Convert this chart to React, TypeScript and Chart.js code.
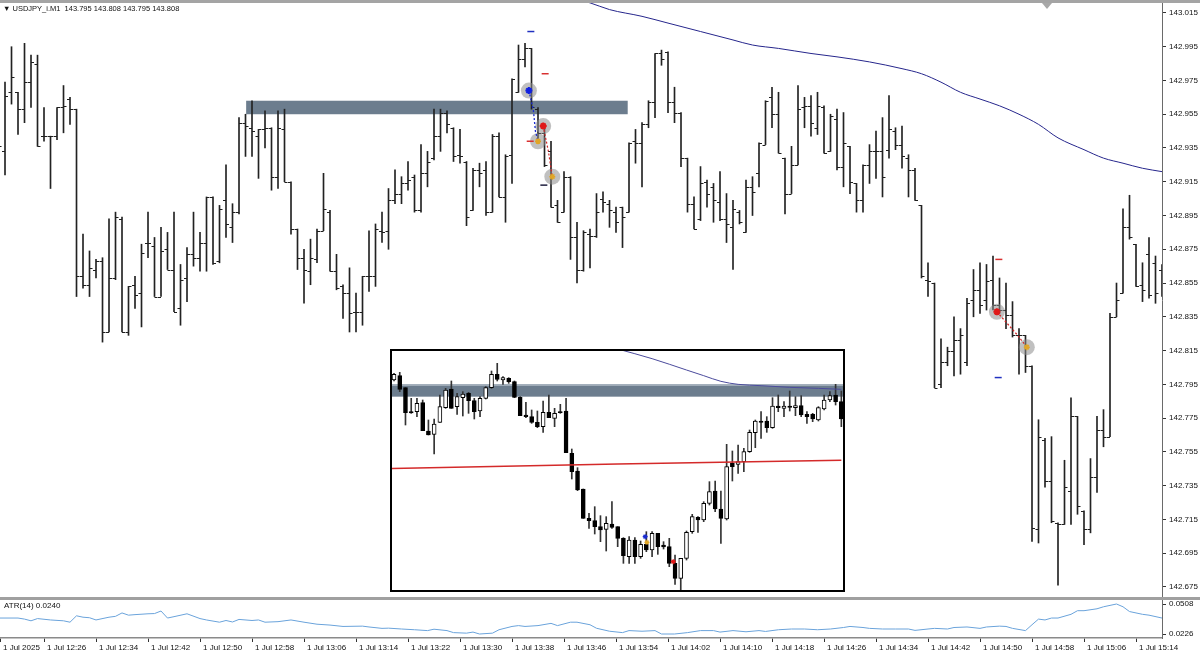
import React, { useEffect, useRef } from "react";
import { Chart, registerables } from "chart.js";

Chart.register(...registerables);

const FONT = "'Liberation Sans', Arial, sans-serif";

const TITLE_TEXT = "USDJPY_i.M1  143.795 143.808 143.795 143.808";
const ATR_TEXT = "ATR(14) 0.0240";

// ---- main M1 bars (index = minute bar) ----
const OPEN = [142.952,142.933,142.968,142.968,142.958,142.974,142.985,142.942,142.942,142.942,
 142.959,142.964,142.958,142.859,142.854,142.863,142.868,142.826,142.858,142.893,
 142.826,142.854,142.849,142.879,142.877,142.847,142.875,142.863,142.840,142.858,
 142.872,142.870,142.879,142.906,142.868,142.904,142.888,142.897,142.950,142.947,
 142.942,142.946,142.947,142.918,142.946,142.915,142.887,142.870,142.862,142.869,
 142.886,142.897,142.862,142.853,142.849,142.838,142.838,142.859,142.859,142.886,
 142.886,142.904,142.908,142.914,142.918,142.898,142.920,142.929,142.942,142.956,
 142.947,142.931,142.927,142.898,142.922,142.922,142.897,142.942,142.906,142.931,
 142.968,142.988,142.994,142.958,142.944,142.933,142.901,142.897,142.918,142.882,
 142.863,142.884,142.883,142.905,142.902,142.897,142.900,142.897,142.939,142.938,
 142.949,142.962,142.991,142.992,142.962,142.956,142.929,142.902,142.893,142.915,
 142.912,142.903,142.893,142.888,142.897,142.885,142.912,142.920,142.937,142.965,
 142.955,142.929,142.908,142.925,142.959,142.960,142.947,142.959,142.933,142.952,
 142.924,142.936,142.914,142.904,142.925,142.933,142.933,142.934,142.945,142.937,
 142.929,142.922,142.901,142.857,142.855,142.795,142.808,142.815,142.821,142.808,
 142.845,142.851,142.845,142.857,142.842,142.839,142.836,142.824,142.824,142.806,
 142.709,142.762,142.738,142.713,142.712,142.732,142.776,142.720,142.709,142.740,
 142.768,142.764,142.835,142.849,142.888,142.878,142.854,142.872,142.867,142.863];

const HIGH = [142.960,142.974,142.995,142.968,142.997,142.990,142.990,142.959,142.942,142.959,
 142.972,142.965,142.958,142.884,142.874,142.869,142.870,142.893,142.897,142.894,
 142.853,142.859,142.878,142.897,142.882,142.888,142.885,142.897,142.866,142.876,
 142.897,142.885,142.906,142.906,142.901,142.925,142.902,142.953,142.955,142.963,
 142.946,142.957,142.947,142.957,142.958,142.915,142.887,142.875,142.881,142.887,
 142.920,142.898,142.872,142.854,142.864,142.849,142.859,142.886,142.890,142.897,
 142.911,142.922,142.918,142.927,142.919,142.937,142.933,142.958,142.958,142.957,
 142.947,142.946,142.927,142.923,142.926,142.927,142.943,142.944,142.931,142.976,
 142.996,142.997,142.994,142.959,142.947,142.939,142.904,142.921,142.918,142.891,
 142.886,142.887,142.908,142.909,142.904,142.900,142.900,142.938,142.946,142.950,
 142.963,142.991,142.993,142.992,142.971,142.956,142.929,142.906,142.924,142.916,
 142.914,142.921,142.908,142.904,142.898,142.916,142.918,142.938,142.963,142.971,
 142.968,142.929,142.936,142.972,142.965,142.966,142.968,142.960,142.955,142.958,
 142.956,142.936,142.914,142.925,142.937,142.945,142.953,142.966,142.947,142.948,
 142.931,142.923,142.901,142.867,142.855,142.822,142.817,142.835,142.828,142.846,
 142.863,142.867,142.866,142.871,142.858,142.855,142.844,142.828,142.824,142.806,
 142.774,142.763,142.764,142.713,142.750,142.787,142.776,142.720,142.751,142.776,
 142.780,142.837,142.855,142.899,142.907,142.878,142.867,142.882,142.871,142.866];

const LOW = [142.934,142.919,142.961,142.943,142.950,142.959,142.936,142.939,142.911,142.940,
 142.944,142.949,142.847,142.852,142.847,142.858,142.820,142.826,142.857,142.826,
 142.824,142.840,142.829,142.870,142.847,142.847,142.863,142.838,142.830,142.844,
 142.865,142.862,142.862,142.866,142.867,142.882,142.879,142.896,142.930,142.930,
 142.917,142.935,142.910,142.911,142.915,142.884,142.863,142.843,142.854,142.867,
 142.886,142.862,142.851,142.834,142.826,142.826,142.830,142.850,142.853,142.879,
 142.875,142.902,142.902,142.910,142.897,142.897,142.912,142.928,142.933,142.944,
 142.927,142.926,142.889,142.898,142.912,142.895,142.897,142.906,142.891,142.914,
 142.968,142.983,142.958,142.939,142.924,142.900,142.891,142.897,142.869,142.855,
 142.862,142.864,142.882,142.897,142.888,142.885,142.876,142.897,142.926,142.912,
 142.947,142.953,142.984,142.956,142.950,142.924,142.897,142.887,142.892,142.900,
 142.891,142.892,142.879,142.863,142.890,142.885,142.895,142.912,142.937,142.947,
 142.932,142.896,142.908,142.925,142.947,142.942,142.943,142.932,142.933,142.922,
 142.912,142.908,142.897,142.897,142.914,142.917,142.906,142.929,142.934,142.923,
 142.906,142.904,142.858,142.847,142.793,142.793,142.806,142.800,142.801,142.806,
 142.835,142.837,142.839,142.839,142.837,142.828,142.823,142.801,142.802,142.702,
 142.701,142.734,142.713,142.676,142.712,142.712,142.718,142.700,142.707,142.731,
 142.758,142.764,142.835,142.849,142.881,142.853,142.844,142.846,142.843,142.847];

const CLOSE = [142.936,142.966,142.977,142.958,142.974,142.986,142.936,142.942,142.942,142.959,
 142.960,142.958,142.859,142.854,142.864,142.868,142.826,142.858,142.894,142.826,
 142.853,142.848,142.873,142.879,142.847,142.874,142.863,142.838,142.857,142.872,
 142.870,142.879,142.906,142.867,142.899,142.890,142.897,142.950,142.948,142.945,
 142.946,142.947,142.918,142.947,142.915,142.887,142.870,142.863,142.870,142.886,
 142.899,142.862,142.852,142.849,142.837,142.838,142.859,142.859,142.887,142.885,
 142.904,142.908,142.914,142.916,142.898,142.920,142.927,142.942,142.956,142.949,
 142.930,142.930,142.894,142.922,142.920,142.897,142.942,142.906,142.930,142.976,
 142.988,142.994,142.959,142.944,142.925,142.900,142.891,142.918,142.882,142.863,
 142.885,142.883,142.897,142.903,142.898,142.891,142.894,142.938,142.938,142.949,
 142.962,142.991,142.988,142.962,142.956,142.929,142.902,142.887,142.914,142.908,
 142.904,142.893,142.890,142.899,142.891,142.912,142.909,142.938,142.963,142.955,
 142.932,142.908,142.925,142.958,142.960,142.950,142.960,142.932,142.954,142.924,
 142.938,142.915,142.904,142.925,142.933,142.933,142.918,142.946,142.937,142.930,
 142.922,142.904,142.859,142.856,142.793,142.808,142.815,142.821,142.824,142.843,
 142.851,142.842,142.856,142.842,142.839,142.836,142.824,142.824,142.806,142.710,
 142.764,142.738,142.714,142.712,142.734,142.776,142.723,142.709,142.740,142.768,
 142.764,142.835,142.845,142.888,142.882,142.853,142.851,142.848,142.849,142.857];

const PRICE_TICKS = [142.675,142.695,142.715,142.735,142.755,142.775,142.795,142.815,142.835,
 142.855,142.875,142.895,142.915,142.935,142.955,142.975,142.995,143.015];
const PRICE_MIN = 142.669;
const PRICE_MAX = 143.0209;
const BAR_MIN = 0.23;
const BAR_MAX = 179.0;

// moving average (navy)
const MA_BARS = [88,91,94,99,103,108,113,116,120,125,129,134,139,142,145,148,151,154,157,160,163,167,170,173,176,179];
const MA_VALUES = [143.024,143.021,143.017,143.013,143.009,143.004,142.999,142.996,142.994,142.991,142.989,142.986,
 142.982,142.979,142.974,142.968,142.964,142.960,142.955,142.949,142.941,142.934,142.929,142.926,142.923,142.921];

// supply zone
const ZONE_FROM = 38.1;
const ZONE_TO = 96.8;
const ZONE_TOP = 142.963;
const ZONE_BOTTOM = 142.955;

// trade signal markers
const HALO_BARS = [81.6, 83.8, 83.0, 85.2, 153.6, 158.2];
const HALO_PRICES = [142.969, 142.948, 142.939, 142.918, 142.838, 142.817];
const BLUE_STAR_BARS = [81.6];
const BLUE_STAR_PRICES = [142.969];
const RED_STAR_BARS = [83.8, 153.6];
const RED_STAR_PRICES = [142.948, 142.838];
const GOLD_STAR_BARS = [83.0, 85.2, 158.2];
const GOLD_STAR_PRICES = [142.939, 142.918, 142.817];
const BLUE_PATH_BARS = [81.6, 82.3, 82.6, 83.0];
const BLUE_PATH_PRICES = [142.969, 142.957, 142.945, 142.939];
const RED_PATH_A_BARS = [83.8, 84.6, 85.2];
const RED_PATH_A_PRICES = [142.948, 142.933, 142.918];
const RED_PATH_B_BARS = [153.6, 156.8, 158.2];
const RED_PATH_B_PRICES = [142.838, 142.824, 142.817];
const BLUE_DASH_BARS = [81.9, 153.8];
const BLUE_DASH_PRICES = [143.004, 142.799];
const RED_DASH_BARS = [84.1, 81.8, 153.9];
const RED_DASH_PRICES = [142.979, 142.939, 142.869];
const DARK_DASH_BARS = [83.9];
const DARK_DASH_PRICES = [142.913];

// time axis
const TIME_BARS = [0.23,7,15,23,31,39,47,55,63,71,79,87,95,103,111,119,127,135,143,151,159,167,175];
const TIME_LABELS = ["1 Jul 2025","1 Jul 12:26","1 Jul 12:34","1 Jul 12:42","1 Jul 12:50","1 Jul 12:58",
 "1 Jul 13:06","1 Jul 13:14","1 Jul 13:22","1 Jul 13:30","1 Jul 13:38","1 Jul 13:46","1 Jul 13:54",
 "1 Jul 14:02","1 Jul 14:10","1 Jul 14:18","1 Jul 14:26","1 Jul 14:34","1 Jul 14:42","1 Jul 14:50",
 "1 Jul 14:58","1 Jul 15:06","1 Jul 15:14"];

// ATR(14)
const ATR_BARS = [0,3,4,5,6,8,10,11,12,13,14,15,17,18,19,20,21,23,24,25,26,27,29,31,32,34,35,36,37,39,40,41,43,45,47,49,
 51,53,56,57,59,60,62,64,66,67,69,70,72,73,74,76,77,79,80,81,83,85,86,88,89,91,92,94,96,97,99,101,102,104,106,108,110,
 111,113,115,117,118,120,122,124,126,128,130,131,133,134,136,138,140,141,143,144,146,147,149,151,152,154,155,156,158,
 159,160,161,162,163,165,166,167,169,170,172,173,174,175,176,177,179];
const ATR_VALUES = [0.0376,0.0376,0.0366,0.0350,0.0371,0.0358,0.0350,0.0337,0.0397,0.0384,0.0379,0.0358,0.0384,0.0392,
 0.0424,0.0403,0.0408,0.0416,0.0418,0.0442,0.0376,0.0389,0.0416,0.0371,0.0358,0.0337,0.0353,0.0339,0.0363,0.0353,0.0358,
 0.0337,0.0342,0.0358,0.0337,0.0318,0.0310,0.0297,0.0300,0.0292,0.0279,0.0281,0.0273,0.0266,0.0258,0.0271,0.0258,0.0239,
 0.0234,0.0244,0.0226,0.0234,0.0266,0.0297,0.0305,0.0297,0.0305,0.0326,0.0305,0.0337,0.0337,0.0313,0.0280,0.0252,0.0239,
 0.0258,0.0252,0.0258,0.0226,0.0226,0.0239,0.0258,0.0258,0.0244,0.0258,0.0247,0.0258,0.0250,0.0266,0.0273,0.0273,0.0266,
 0.0273,0.0287,0.0297,0.0287,0.0279,0.0273,0.0273,0.0273,0.0260,0.0273,0.0279,0.0273,0.0287,0.0292,0.0279,0.0292,0.0300,
 0.0297,0.0279,0.0258,0.0313,0.0366,0.0358,0.0376,0.0376,0.0411,0.0445,0.0445,0.0463,0.0482,0.0508,0.0482,0.0437,0.0424,
 0.0411,0.0403,0.0376];
const ATR_TICKS = [0.0226, 0.0508];
const ATR_MIN = 0.01884;
const ATR_MAX = 0.05456;

// ---- inset (higher time-frame candles) ----
const INSET_OPEN = [143.0895,143.0908,143.0872,143.0800,143.0800,143.0827,143.0742,143.0732,143.0768,143.0812,
 143.0868,143.0815,143.0842,143.0855,143.0833,143.0802,143.0840,143.0872,143.0912,143.0895,
 143.0900,143.0890,143.0843,143.0790,143.0785,143.0768,143.0755,143.0798,143.0780,143.0800,
 143.0802,143.0675,143.0622,143.0568,143.0480,143.0473,143.0455,143.0447,143.0463,143.0455,
 143.0420,143.0365,143.0415,143.0365,143.0402,143.0385,143.0435,143.0400,143.0395,143.0345,
 143.0300,143.0360,143.0440,143.0483,143.0475,143.0525,143.0562,143.0508,143.0478,143.0645,
 143.0642,143.0650,143.0680,143.0737,143.0772,143.0772,143.0752,143.0817,143.0810,143.0817,
 143.0812,143.0818,143.0792,143.0792,143.0775,143.0808,143.0835,143.0850,143.0830];
const INSET_HIGH = [143.0915,143.0918,143.0872,143.0840,143.0840,143.0835,143.0775,143.0778,143.0850,143.0870,
 143.0892,143.0855,143.0860,143.0858,143.0840,143.0845,143.0875,143.0922,143.0945,143.0905,
 143.0902,143.0892,143.0845,143.0828,143.0805,143.0802,143.0832,143.0850,143.0810,143.0822,
 143.0840,143.0688,143.0632,143.0568,143.0495,143.0515,143.0488,143.0485,143.0530,143.0455,
 143.0422,143.0425,143.0422,143.0412,143.0440,143.0440,143.0435,143.0410,143.0420,143.0370,
 143.0360,143.0442,143.0492,143.0485,143.0530,143.0590,143.0592,143.0562,143.0702,143.0682,
 143.0700,143.0690,143.0745,143.0775,143.0800,143.0785,143.0842,143.0850,143.0830,143.0862,
 143.0845,143.0848,143.0800,143.0795,143.0815,143.0850,143.0860,143.0882,143.0862];
const INSET_LOW = [143.0892,143.0860,143.0760,143.0795,143.0785,143.0743,143.0730,143.0673,143.0768,143.0810,
 143.0810,143.0792,143.0787,143.0795,143.0778,143.0785,143.0838,143.0870,143.0892,143.0882,
 143.0885,143.0842,143.0788,143.0782,143.0765,143.0752,143.0738,143.0782,143.0755,143.0795,
 143.0677,143.0598,143.0563,143.0480,143.0450,143.0433,143.0410,143.0382,143.0450,143.0395,
 143.0345,143.0345,143.0345,143.0360,143.0380,143.0365,143.0372,143.0388,143.0335,143.0282,
 143.0265,143.0355,143.0435,143.0438,143.0470,143.0520,143.0500,143.0405,143.0475,143.0592,
 143.0615,143.0620,143.0678,143.0692,143.0720,143.0738,143.0750,143.0800,143.0785,143.0802,
 143.0788,143.0785,143.0765,143.0770,143.0772,143.0805,143.0830,143.0820,143.0755];
const INSET_CLOSE = [143.0912,143.0867,143.0797,143.0796,143.0825,143.0743,143.0730,143.0763,143.0815,143.0865,
 143.0810,143.0845,143.0853,143.0833,143.0800,143.0840,143.0872,143.0912,143.0897,143.0902,
 143.0890,143.0843,143.0788,143.0785,143.0768,143.0755,143.0798,143.0782,143.0795,143.0797,
 143.0677,143.0620,143.0565,143.0480,143.0473,143.0455,143.0445,143.0465,143.0453,143.0420,
 143.0368,143.0415,143.0365,143.0402,143.0385,143.0435,143.0395,143.0394,143.0345,143.0300,
 143.0360,143.0438,143.0485,143.0475,143.0525,143.0560,143.0508,143.0480,143.0635,143.0635,
 143.0650,143.0680,143.0738,143.0772,143.0768,143.0752,143.0817,143.0812,143.0817,143.0813,
 143.0818,143.0790,143.0785,143.0778,143.0812,143.0835,143.0848,143.0830,143.0778];
const INSET_X_MIN = 0.65;
const INSET_X_MAX = 79.29;
const INSET_Y_MIN = 143.0265;
const INSET_Y_MAX = 143.0982;
const INSET_ZONE_TOP = 143.0882;
const INSET_ZONE_BOTTOM = 143.0845;
const INSET_MA_BARS = [40,46,52,55,58,61,65,70,75,79];
const INSET_MA_VALUES = [143.0988,143.0959,143.0925,143.0908,143.0891,143.0882,143.0878,143.0873,143.0870,143.0867];
const INSET_RED_BARS = [0,40,58,79];
const INSET_RED_VALUES = [143.0629,143.0643,143.0648,143.0654];
const INSET_SIGNAL_BARS = [44.8, 45.1, 49.7];
const INSET_SIGNAL_PRICES = [143.0425, 143.0408, 143.0350];

const pts = (xs: number[], ys: number[]) => xs.map((x, i) => ({ x, y: ys[i] }));

const zonePlugin = {
  id: "zone",
  beforeDatasetsDraw(chart: any) {
    const { ctx, scales } = chart;
    const x1 = scales.x.getPixelForValue(ZONE_FROM);
    const x2 = scales.x.getPixelForValue(ZONE_TO);
    const y1 = scales.y.getPixelForValue(ZONE_TOP);
    const y2 = scales.y.getPixelForValue(ZONE_BOTTOM);
    ctx.save();
    ctx.fillStyle = "#6c7d8e";
    ctx.fillRect(x1, y1, x2 - x1, y2 - y1);
    ctx.restore();
  },
};

const ohlcTickPlugin = {
  id: "ohlcTicks",
  afterDatasetDraw(chart: any, args: any) {
    if (args.meta.type !== "bar") return;
    const { ctx, scales, chartArea } = chart;
    ctx.save();
    ctx.beginPath();
    ctx.rect(chartArea.left, chartArea.top, chartArea.right - chartArea.left, chartArea.bottom - chartArea.top);
    ctx.clip();
    ctx.strokeStyle = "#1e1e1e";
    ctx.lineWidth = 1;
    ctx.beginPath();
    for (let i = 0; i < OPEN.length; i++) {
      const px = scales.x.getPixelForValue(i);
      const yo = Math.round(scales.y.getPixelForValue(OPEN[i])) + 0.5;
      const yc = Math.round(scales.y.getPixelForValue(CLOSE[i])) + 0.5;
      ctx.moveTo(px - 3, yo);
      ctx.lineTo(px, yo);
      ctx.moveTo(px, yc);
      ctx.lineTo(px + 3, yc);
    }
    ctx.stroke();
    ctx.restore();
  },
};

const insetZonePlugin = {
  id: "insetZone",
  beforeDatasetsDraw(chart: any) {
    const { ctx, scales, chartArea } = chart;
    const y1 = scales.y.getPixelForValue(INSET_ZONE_TOP);
    const y2 = scales.y.getPixelForValue(INSET_ZONE_BOTTOM);
    ctx.save();
    ctx.fillStyle = "#6c7d8e";
    ctx.fillRect(chartArea.left, y1, chartArea.right - chartArea.left, y2 - y1);
    ctx.fillStyle = "#a9b5c0";
    ctx.fillRect(chartArea.left, y1, chartArea.right - chartArea.left, 1.5);
    ctx.restore();
  },
};

const axisFont = { family: FONT, size: 8 };

function mainConfig(): any {
  return {
    type: "bar",
    data: {
      datasets: [
        {
          type: "bar",
          data: HIGH.map((h, i) => ({ x: i, y: [LOW[i], h] })),
          backgroundColor: "#222222",
          barThickness: 1,
          grouped: false,
          order: 10,
        },
        {
          type: "line",
          data: pts(MA_BARS, MA_VALUES),
          borderColor: "#26268c",
          borderWidth: 1,
          pointRadius: 0,
          cubicInterpolationMode: "monotone",
          order: 9,
        },
        {
          type: "line",
          showLine: false,
          data: pts(HALO_BARS, HALO_PRICES),
          pointRadius: 8,
          pointBackgroundColor: "rgba(140,140,140,0.55)",
          pointBorderWidth: 0,
          order: 8,
        },
        {
          type: "line",
          data: pts(BLUE_PATH_BARS, BLUE_PATH_PRICES),
          borderColor: "#1a2cd0",
          borderWidth: 1.3,
          borderDash: [2, 2],
          pointRadius: 0,
          order: 7,
        },
        {
          type: "line",
          data: pts(RED_PATH_A_BARS, RED_PATH_A_PRICES),
          borderColor: "#d02828",
          borderWidth: 1.2,
          borderDash: [2, 2],
          pointRadius: 0,
          order: 7,
        },
        {
          type: "line",
          data: pts(RED_PATH_B_BARS, RED_PATH_B_PRICES),
          borderColor: "#d02828",
          borderWidth: 1.2,
          borderDash: [2, 2],
          pointRadius: 0,
          order: 7,
        },
        {
          type: "line",
          showLine: false,
          data: pts(BLUE_STAR_BARS, BLUE_STAR_PRICES),
          pointStyle: "star",
          pointRadius: 3.5,
          pointBorderColor: "#1020e0",
          pointBorderWidth: 2,
          order: 6,
        },
        {
          type: "line",
          showLine: false,
          data: pts(RED_STAR_BARS, RED_STAR_PRICES),
          pointStyle: "star",
          pointRadius: 3.5,
          pointBorderColor: "#e01818",
          pointBorderWidth: 2,
          order: 6,
        },
        {
          type: "line",
          showLine: false,
          data: pts(GOLD_STAR_BARS, GOLD_STAR_PRICES),
          pointStyle: "star",
          pointRadius: 3,
          pointBorderColor: "#e0a628",
          pointBorderWidth: 1.5,
          order: 6,
        },
        {
          type: "line",
          showLine: false,
          data: pts(BLUE_DASH_BARS, BLUE_DASH_PRICES),
          pointStyle: "line",
          pointRadius: 3.5,
          pointBorderColor: "#2030c0",
          pointBorderWidth: 1.5,
          order: 5,
        },
        {
          type: "line",
          showLine: false,
          data: pts(RED_DASH_BARS, RED_DASH_PRICES),
          pointStyle: "line",
          pointRadius: 3.5,
          pointBorderColor: "#d83030",
          pointBorderWidth: 1.5,
          order: 5,
        },
        {
          type: "line",
          showLine: false,
          data: pts(DARK_DASH_BARS, DARK_DASH_PRICES),
          pointStyle: "line",
          pointRadius: 3.5,
          pointBorderColor: "#202040",
          pointBorderWidth: 1.5,
          order: 5,
        },
      ],
    },
    options: {
      animation: false,
      responsive: false,
      maintainAspectRatio: false,
      events: [],
      layout: { padding: 0, autoPadding: false },
      plugins: { legend: { display: false }, tooltip: { enabled: false } },
      scales: {
        x: { type: "linear", min: BAR_MIN, max: BAR_MAX, offset: false, display: false },
        y: {
          type: "linear",
          position: "right",
          min: PRICE_MIN,
          max: PRICE_MAX,
          afterBuildTicks: (s: any) => {
            s.ticks = PRICE_TICKS.map((v) => ({ value: v }));
          },
          afterFit: (s: any) => {
            s.width = 38;
            s.paddingTop = 0;
            s.paddingBottom = 0;
          },
          ticks: {
            callback: (v: any) => Number(v).toFixed(3),
            font: axisFont,
            color: "#111",
            padding: 3,
          },
          grid: { drawOnChartArea: false, drawTicks: true, tickLength: 4, tickColor: "#333" },
          border: { display: true, color: "#6a6a6a", width: 1 },
        },
      },
    },
    plugins: [zonePlugin, ohlcTickPlugin],
  };
}

function atrConfig(): any {
  return {
    type: "line",
    data: {
      datasets: [
        {
          data: pts(ATR_BARS, ATR_VALUES),
          borderColor: "#6aa3db",
          borderWidth: 1,
          pointRadius: 0,
          tension: 0,
        },
      ],
    },
    options: {
      animation: false,
      responsive: false,
      maintainAspectRatio: false,
      events: [],
      layout: { padding: 0, autoPadding: false },
      plugins: { legend: { display: false }, tooltip: { enabled: false } },
      scales: {
        x: {
          type: "linear",
          min: BAR_MIN,
          max: BAR_MAX,
          offset: false,
          afterBuildTicks: (s: any) => {
            s.ticks = TIME_BARS.map((v) => ({ value: v }));
          },
          afterFit: (s: any) => {
            s.height = 18;
            s.paddingLeft = 0;
            s.paddingRight = 0;
          },
          ticks: {
            autoSkip: false,
            maxRotation: 0,
            minRotation: 0,
            align: "start",
            labelOffset: 3,
            padding: 1,
            font: axisFont,
            color: "#111",
            callback: (_v: any, idx: number) => TIME_LABELS[idx],
          },
          grid: { drawOnChartArea: false, drawTicks: true, tickLength: 4, tickColor: "#333" },
          border: { display: true, color: "#8a8a8a", width: 1.5 },
        },
        y: {
          type: "linear",
          position: "right",
          min: ATR_MIN,
          max: ATR_MAX,
          afterBuildTicks: (s: any) => {
            s.ticks = ATR_TICKS.map((v) => ({ value: v }));
          },
          afterFit: (s: any) => {
            s.width = 38;
            s.paddingTop = 0;
            s.paddingBottom = 0;
          },
          ticks: {
            callback: (v: any) => Number(v).toFixed(4),
            font: axisFont,
            color: "#111",
            padding: 3,
          },
          grid: { drawOnChartArea: false, drawTicks: true, tickLength: 4, tickColor: "#333" },
          border: { display: true, color: "#6a6a6a", width: 1 },
        },
      },
    },
  };
}

function insetConfig(): any {
  const bodyLow = INSET_OPEN.map((o, i) => Math.min(o, INSET_CLOSE[i]));
  const bodyHigh = INSET_OPEN.map((o, i) => Math.max(o, INSET_CLOSE[i]));
  return {
    type: "bar",
    data: {
      datasets: [
        {
          type: "bar",
          data: INSET_HIGH.map((h, i) => ({ x: i + 1, y: [INSET_LOW[i], h] })),
          backgroundColor: "#333",
          barThickness: 1,
          grouped: false,
          order: 10,
        },
        {
          type: "bar",
          data: bodyHigh.map((h, i) => ({ x: i + 1, y: [bodyLow[i], h] })),
          backgroundColor: INSET_OPEN.map((o, i) => (INSET_CLOSE[i] >= o ? "#ffffff" : "#000000")),
          borderColor: "#000",
          borderWidth: 1,
          borderSkipped: false,
          barThickness: 4,
          grouped: false,
          order: 9,
        },
        {
          type: "line",
          data: pts(INSET_RED_BARS, INSET_RED_VALUES),
          borderColor: "#d42a2a",
          borderWidth: 1.5,
          pointRadius: 0,
          order: 2,
        },
        {
          type: "line",
          data: pts(INSET_MA_BARS, INSET_MA_VALUES),
          borderColor: "#4b4b9c",
          borderWidth: 1,
          pointRadius: 0,
          cubicInterpolationMode: "monotone",
          order: 2,
        },
        {
          type: "line",
          showLine: false,
          data: pts(INSET_SIGNAL_BARS, INSET_SIGNAL_PRICES),
          pointStyle: "star",
          pointRadius: 2.5,
          pointBorderColor: ["#1a2cd0", "#e0a628", "#e01818"],
          pointBorderWidth: 1.2,
          order: 1,
        },
      ],
    },
    options: {
      animation: false,
      responsive: false,
      maintainAspectRatio: false,
      events: [],
      layout: { padding: 0, autoPadding: false },
      plugins: { legend: { display: false }, tooltip: { enabled: false } },
      scales: {
        x: { type: "linear", min: INSET_X_MIN, max: INSET_X_MAX, offset: false, display: false },
        y: { type: "linear", min: INSET_Y_MIN, max: INSET_Y_MAX, display: false },
      },
    },
    plugins: [insetZonePlugin],
  };
}

export default function App() {
  const mainRef = useRef<HTMLCanvasElement>(null);
  const atrRef = useRef<HTMLCanvasElement>(null);
  const insetRef = useRef<HTMLCanvasElement>(null);

  useEffect(() => {
    const charts: Chart[] = [];
    if (mainRef.current) charts.push(new Chart(mainRef.current, mainConfig()));
    if (atrRef.current) charts.push(new Chart(atrRef.current, atrConfig()));
    if (insetRef.current) charts.push(new Chart(insetRef.current, insetConfig()));
    return () => charts.forEach((c) => c.destroy());
  }, []);

  const abs = (l: number, t: number, w: number, h: number): React.CSSProperties => ({
    position: "absolute",
    left: l,
    top: t,
    width: w,
    height: h,
  });

  return (
    <div
      style={{
        position: "fixed",
        left: 0,
        top: 0,
        width: 1200,
        height: 656,
        background: "#ffffff",
        overflow: "hidden",
        fontFamily: FONT,
      }}
    >
      <div style={{ ...abs(0, 0, 1200, 3), background: "#a4a4a4" }} />
      <canvas ref={mainRef} width={1200} height={594} style={{ ...abs(0, 3, 1200, 594), display: "block" }} />
      <div style={{ ...abs(0, 597, 1200, 3), background: "#a0a0a0" }} />
      <canvas ref={atrRef} width={1200} height={56} style={{ ...abs(0, 600, 1200, 56), display: "block" }} />
      <div
        style={{
          ...abs(1042, 3, 0, 0),
          borderLeft: "5px solid transparent",
          borderRight: "5px solid transparent",
          borderTop: "6px solid #a8a8a8",
        }}
      />
      <div
        style={{
          position: "absolute",
          left: 3,
          top: 4,
          fontSize: 7.5,
          lineHeight: "10px",
          color: "#111",
          whiteSpace: "pre",
        }}
      >
        {"\u25BC " + TITLE_TEXT}
      </div>
      <div
        style={{
          position: "absolute",
          left: 4,
          top: 601,
          fontSize: 8,
          lineHeight: "10px",
          color: "#111",
          whiteSpace: "pre",
        }}
      >
        {ATR_TEXT}
      </div>
      <div
        style={{
          ...abs(390, 349, 455, 243),
          boxSizing: "border-box",
          border: "2px solid #000",
          background: "#fff",
        }}
      >
        <canvas ref={insetRef} width={451} height={239} style={{ display: "block", width: 451, height: 239 }} />
      </div>
    </div>
  );
}
